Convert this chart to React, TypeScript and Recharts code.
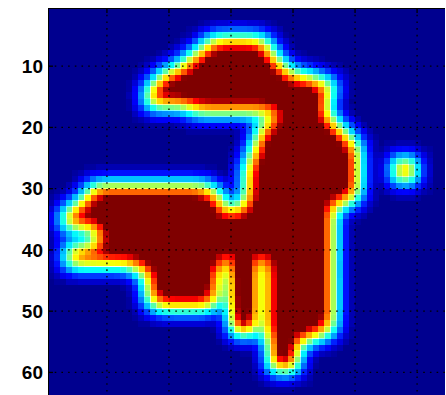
import React from 'react';
import { ScatterChart, Scatter, XAxis, YAxis } from 'recharts';

// tick values shown on the axes
const xTicks = [10, 20, 30, 40, 50, 60];
const yTicks = [10, 20, 30, 40, 50, 60];

// hot cells of the 64x64 image, as [row, first column, last column, level]
const hatRuns = [
  [6, 27, 35], [7, 26, 36], [8, 25, 36], [9, 23, 37], [10, 23, 38], [11, 20, 39],
  [12, 19, 43], [13, 18, 46], [14, 17, 46], [15, 17, 45], [16, 17, 45], [17, 24, 45],
];
const trunkRuns = [
  [18, 38, 45], [19, 37, 46], [20, 35, 47], [21, 35, 48], [22, 35, 49],
  [23, 34, 50], [24, 34, 50], [25, 34, 50], [26, 33, 50], [27, 33, 50], [28, 33, 50],
  [29, 33, 50], [30, 33, 50], [31, 33, 50], [32, 33, 49], [33, 32, 46],
  [34, 31, 46], [35, 31, 46], [36, 31, 46], [37, 31, 46], [38, 31, 46], [39, 31, 46],
  [40, 31, 46], [41, 31, 46], [42, 36, 46], [43, 36, 46], [44, 36, 46], [45, 36, 46],
  [46, 36, 46], [47, 36, 46], [48, 36, 46], [49, 36, 46], [50, 36, 46], [51, 36, 46],
  [52, 36, 46], [53, 36, 46], [54, 36, 44],
];
const armRuns = [
  [30, 8, 26], [31, 7, 28], [32, 7, 28], [33, 5, 28], [34, 4, 30], [35, 3, 30],
  [36, 4, 30], [37, 9, 30], [38, 9, 30], [39, 9, 30], [40, 4, 30], [41, 4, 29],
  [42, 4, 29], [43, 15, 28], [44, 17, 27], [45, 17, 27], [46, 17, 27], [47, 17, 27],
  [48, 17, 27], [49, 18, 27],
  [44, 28, 28, 0.6], [45, 28, 28, 0.6], [46, 28, 28, 0.6], [47, 28, 28, 0.6], [48, 28, 28, 0.6],
];
const legRuns = [
  [42, 31, 33, 1.45], [43, 31, 33, 1.5], [44, 31, 33, 1.5], [45, 31, 33, 1.5],
  [46, 31, 33, 1.5], [47, 31, 33, 1.5], [48, 31, 33, 1.5], [49, 31, 33, 1.5],
  [50, 31, 33, 1.5], [51, 31, 33, 1.5], [52, 31, 33, 1.5], [53, 31, 33, 1.4],
];
const tailRuns = [[55, 37, 41], [56, 37, 40, 1.2], [57, 37, 40, 1.2], [58, 37, 40, 1.2], [59, 37, 40, 1.2]];
const spotRuns = [[26, 57, 59, 1.2], [27, 57, 59, 1.2], [28, 57, 59, 1.2]];

const PLOT_W = 397;
const PLOT_H = 392;
const CELL_W = PLOT_W / 64;
const CELL_H = PLOT_H / 64;
const GAIN = 2; // levels are drawn at 1/GAIN opacity and scaled back in the filter
const TONE = 0.8; // widens the colour rim without filling thin gaps

const cells = [...hatRuns, ...trunkRuns, ...armRuns, ...legRuns, ...tailRuns, ...spotRuns].flatMap(
  ([r, a, b, level = 1]) => {
    const out: { x: number; y: number; v: number }[] = [];
    for (let c = a; c <= b; c++) out.push({ x: c, y: r, v: level });
    return out;
  }
);

// jet colormap lookup tables for feComponentTransfer
const clamp = (n: number) => Math.max(0, Math.min(1, n));
const jet = (() => {
  const r: string[] = [];
  const gr: string[] = [];
  const b: string[] = [];
  const n = 49;
  for (let i = 0; i < n; i++) {
    const v = i / (n - 1);
    const p = Math.pow(v, TONE);
    const q = Math.pow(1 - v, TONE);
    const t = p + q === 0 ? 0 : p / (p + q);
    r.push(clamp(Math.min(4 * t - 1.5, -4 * t + 4.5)).toFixed(3));
    gr.push(clamp(Math.min(4 * t - 0.5, -4 * t + 3.5)).toFixed(3));
    b.push(clamp(Math.min(4 * t + 0.5625, -4 * t + 2.5)).toFixed(3));
  }
  return { r: r.join(' '), g: gr.join(' '), b: b.join(' ') };
})();

// straight segments drawn as two-point scatter lines so they sit above the image
const vGrid = xTicks.map((t) => [{ x: t, y: 0.5 }, { x: t, y: 64.5 }]);
const hGrid = yTicks.map((t) => [{ x: 0.5, y: t }, { x: 64.5, y: t }]);
const topTicks = xTicks.map((t) => [{ x: t, y: 0.5 }, { x: t, y: 1.3 }]);
const leftTicks = yTicks.map((t) => [{ x: 0.5, y: t }, { x: 1.3, y: t }]);
const frame = [
  [{ x: 0.5, y: 0.5 }, { x: 64.5, y: 0.5 }],
  [{ x: 0.5, y: 0.5 }, { x: 0.5, y: 64.5 }],
];

const HotCell = (props: any) => {
  const { cx, cy, payload } = props;
  if (cx == null || cy == null) return null;
  return (
    <rect
      x={cx - CELL_W / 2 - 0.3}
      y={cy - CELL_H / 2 - 0.3}
      width={CELL_W + 0.6}
      height={CELL_H + 0.6}
      fill="#fff"
      fillOpacity={(payload?.v ?? 1) / GAIN}
    />
  );
};

const NoDot = () => <g />;

const gridStyle = { stroke: '#000', strokeWidth: 1.3, strokeDasharray: '1.6 5.1' };

export default function App() {
  const g = GAIN;
  return (
    <div style={{ position: 'absolute', left: 0, top: 0, width: 446, height: 395, overflow: 'hidden', background: '#fff' }}>
      <style>{'.heat-layer { filter: url(#jetmap); }'}</style>
      <svg width={0} height={0} style={{ position: 'absolute' }}>
        <defs>
          {/* blur the hot cells, map the level through jet, then sample it back into blocks */}
          <filter
            id="jetmap"
            filterUnits="userSpaceOnUse"
            x={48}
            y={8}
            width={PLOT_W}
            height={PLOT_H}
            colorInterpolationFilters="sRGB"
          >
            <feGaussianBlur in="SourceAlpha" stdDeviation={9} result="b" />
            <feColorMatrix
              in="b"
              type="matrix"
              values={`0 0 0 ${g} 0  0 0 0 ${g} 0  0 0 0 ${g} 0  0 0 0 0 1`}
              result="lv"
            />
            <feComponentTransfer in="lv" result="jet">
              <feFuncR type="table" tableValues={jet.r} />
              <feFuncG type="table" tableValues={jet.g} />
              <feFuncB type="table" tableValues={jet.b} />
            </feComponentTransfer>
            <feFlood x={48} y={8} width={6} height={6} floodColor="#000" floodOpacity={0} result="empty" />
            <feFlood x={51} y={11} width={1} height={1} floodColor="#fff" floodOpacity={1} result="px" />
            <feComposite in="px" in2="empty" operator="over" x={48} y={8} width={6} height={6} result="tile" />
            <feTile in="tile" x={48} y={8} width={PLOT_W} height={PLOT_H} result="dots" />
            <feComposite in="jet" in2="dots" operator="in" result="samples" />
            <feMorphology in="samples" operator="dilate" radius={3} />
          </filter>
        </defs>
      </svg>
      <ScatterChart width={460} height={410} margin={{ top: 8, right: 15, bottom: 10, left: 0 }}>
        <XAxis
          type="number"
          dataKey="x"
          domain={[0.5, 64.5]}
          orientation="top"
          height={0}
          ticks={xTicks}
          tick={false}
          tickLine={false}
          axisLine={false}
          allowDataOverflow
        />
        <YAxis
          type="number"
          dataKey="y"
          domain={[0.5, 64.5]}
          reversed
          width={48}
          ticks={yTicks}
          tickLine={false}
          tickSize={0}
          tickMargin={5}
          axisLine={false}
          tick={{ fill: '#000', fontSize: 19, fontWeight: 'bold', fontFamily: 'Liberation Sans, Arial, sans-serif' }}
          allowDataOverflow
        />
        <Scatter data={cells} shape={<HotCell />} isAnimationActive={false} className="heat-layer" />
        {[...vGrid, ...hGrid].map((seg, i) => (
          <Scatter key={'g' + i} data={seg} line={gridStyle} shape={<NoDot />} isAnimationActive={false} />
        ))}
        {[...topTicks, ...leftTicks].map((seg, i) => (
          <Scatter key={'t' + i} data={seg} line={{ stroke: '#000', strokeWidth: 1.3 }} shape={<NoDot />} isAnimationActive={false} />
        ))}
        {frame.map((seg, i) => (
          <Scatter key={'f' + i} data={seg} line={{ stroke: '#000', strokeWidth: 2 }} shape={<NoDot />} isAnimationActive={false} />
        ))}
      </ScatterChart>
    </div>
  );
}
